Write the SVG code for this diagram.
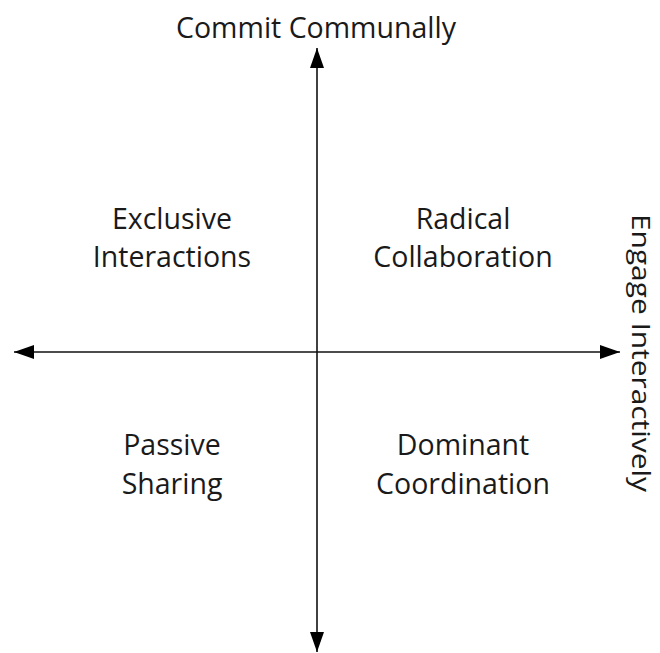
<svg xmlns="http://www.w3.org/2000/svg" width="660" height="653" viewBox="0 0 660 653">
<style>
text{font-family:"Open Sans","Liberation Sans",sans-serif;font-size:28.5px;fill:#1a1a1a;text-anchor:middle}
.ax{stroke:#111;stroke-width:1.6;fill:none}
</style>
<defs>
<marker id="ah" viewBox="0 0 20 14" refX="20" refY="7" markerWidth="20" markerHeight="14" markerUnits="userSpaceOnUse" orient="auto">
<path d="M0,0 L20,7 L0,14 Z" fill="#000"/>
</marker>
</defs>
<g id="connectors">
<line class="ax" x1="317" y1="352" x2="317" y2="48" marker-end="url(#ah)"/>
<line class="ax" x1="317" y1="352" x2="317" y2="652" marker-end="url(#ah)"/>
<line class="ax" x1="317" y1="352" x2="14" y2="352" marker-end="url(#ah)"/>
<line class="ax" x1="317" y1="352" x2="620" y2="352" marker-end="url(#ah)"/>
</g>
<g id="axis-top"><text x="316" y="38">Commit Communally</text></g>
<g id="axis-right"><text transform="translate(632,353) rotate(90)" style="font-size:26px" textLength="278" lengthAdjust="spacingAndGlyphs">Engage Interactively</text></g>
<g id="q-exclusive"><text x="172" y="229">Exclusive</text><text x="172" y="267">Interactions</text></g>
<g id="q-radical"><text x="463" y="229">Radical</text><text x="463" y="267">Collaboration</text></g>
<g id="q-passive"><text x="172" y="455">Passive</text><text x="172" y="494">Sharing</text></g>
<g id="q-dominant"><text x="463" y="455">Dominant</text><text x="463" y="494">Coordination</text></g>
</svg>
